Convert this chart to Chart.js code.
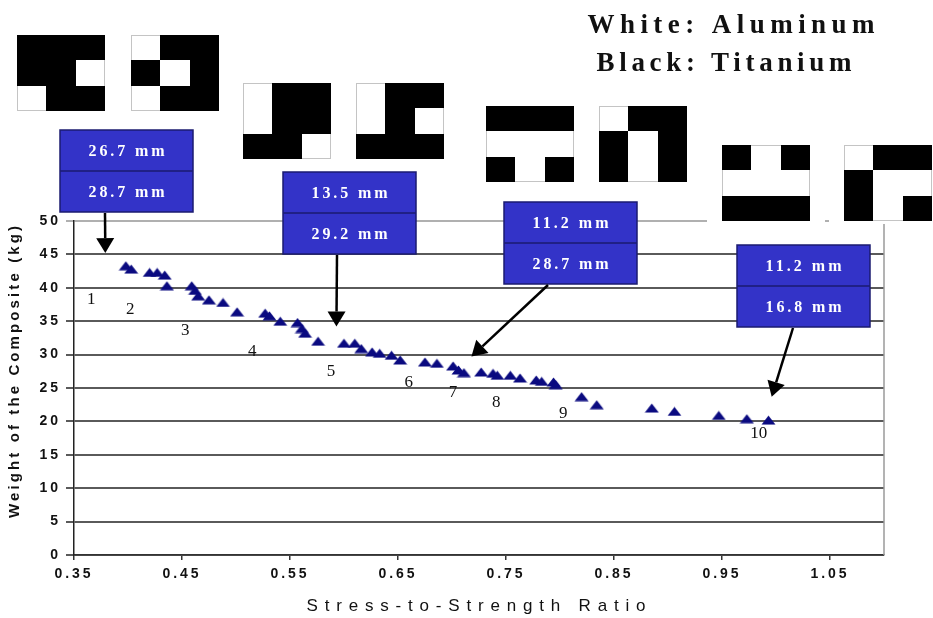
<!DOCTYPE html>
<html lang="en">
<head>
<meta charset="utf-8">
<title>Weight of the composite vs stress-to-strength ratio</title>
<script src="https://cdn.jsdelivr.net/npm/chart.js@4.4.1/dist/chart.umd.min.js"></script>
<style>
  body { margin: 0; background: #fff; }
  .wrap { position: relative; width: 933px; height: 618px; }
</style>
</head>
<body>
<div class="wrap"><canvas id="weightChart"></canvas></div>
<script>
  // designs (stress-to-strength ratio, weight in kg)
  const ratio = [0.398, 0.403, 0.420, 0.427, 0.434, 0.436, 0.459, 0.462, 0.465, 0.475,
                 0.488, 0.501, 0.527, 0.531, 0.541, 0.557, 0.561, 0.564, 0.576, 0.600,
                 0.610, 0.616, 0.626, 0.633, 0.644, 0.652, 0.675, 0.686, 0.701, 0.706,
                 0.711, 0.727, 0.738, 0.742, 0.754, 0.763, 0.778, 0.783, 0.794, 0.796,
                 0.820, 0.834, 0.885, 0.906, 0.947, 0.973, 0.993];
  const weight = [43.3, 42.8, 42.3, 42.3, 41.9, 40.3, 40.3, 39.6, 38.8, 38.2,
                  37.8, 36.4, 36.2, 35.8, 35.0, 34.8, 33.9, 33.2, 32.0, 31.7,
                  31.7, 30.9, 30.4, 30.2, 29.9, 29.2, 28.9, 28.7, 28.3, 27.7,
                  27.3, 27.4, 27.2, 26.9, 26.9, 26.5, 26.2, 26.0, 25.9, 25.5,
                  23.7, 22.5, 22.0, 21.5, 20.9, 20.4, 20.2];

  const xTicks = [0.35, 0.45, 0.55, 0.65, 0.75, 0.85, 0.95, 1.05];

  // group numbers 1..10 under the curve
  const groupNames = ['1', '2', '3', '4', '5', '6', '7', '8', '9', '10'];
  const groupX = [0.366, 0.402, 0.453, 0.515, 0.588, 0.660, 0.701, 0.741, 0.803, 0.984];
  const groupY = [38.2, 36.7, 33.6, 30.4, 27.4, 25.8, 24.3, 22.8, 21.2, 18.2];

  // callouts: two thicknesses each, arrow pointing at a design
  const topSize = ['26.7 mm', '13.5 mm', '11.2 mm', '11.2 mm'];
  const bottomSize = ['28.7 mm', '29.2 mm', '28.7 mm', '16.8 mm'];
  const arrowX = [0.379, 0.593, 0.718, 0.996];
  const arrowY = [45.2, 34.2, 29.7, 23.7];

  // 3x3 material layouts, 1 = titanium (black), 0 = aluminum (white)
  const layouts = [
    [1,1,1, 1,1,0, 0,1,1],
    [0,1,1, 1,0,1, 0,1,1],
    [0,1,1, 0,1,1, 1,1,0],
    [0,1,1, 0,1,0, 1,1,1],
    [1,1,1, 0,0,0, 1,0,1],
    [0,1,1, 1,0,1, 1,0,1],
    [1,0,1, 0,0,0, 1,1,1],
    [0,1,1, 1,0,0, 1,0,1]
  ];

  // placement of the decorations (pixels)
  const iconPos = [[17, 35], [131, 35], [243, 83], [356, 83], [486, 106], [599, 106], [722, 145], [844, 145]];
  const boxPos = [[60, 130], [283, 172], [504, 202], [737, 245]];
  const arrowStartX = [105, 337, 548, 793];

  // flat triangle marker
  const tri = document.createElement('canvas');
  tri.width = 15;
  tri.height = 10;
  const tctx = tri.getContext('2d');
  tctx.fillStyle = '#0a0a80';
  tctx.beginPath();
  tctx.moveTo(7.5, 0.5);
  tctx.lineTo(14.5, 9.5);
  tctx.lineTo(0.5, 9.5);
  tctx.closePath();
  tctx.fill();

  function fitText(ctx, text, cx, cy, width) {
    ctx.letterSpacing = '0px';
    const w0 = ctx.measureText(text).width;
    const gap = text.length > 1 ? (width - w0) / (text.length - 1) : 0;
    ctx.letterSpacing = gap + 'px';
    ctx.textAlign = 'left';
    ctx.fillText(text, cx - width / 2, cy);
    ctx.letterSpacing = '0px';
  }

  function arrow(ctx, x1, y1, x2, y2) {
    const ang = Math.atan2(y2 - y1, x2 - x1);
    const len = 15, half = 9;
    const bx = x2 - Math.cos(ang) * len, by = y2 - Math.sin(ang) * len;
    ctx.strokeStyle = '#000';
    ctx.lineWidth = 2.5;
    ctx.beginPath();
    ctx.moveTo(x1, y1);
    ctx.lineTo(bx, by);
    ctx.stroke();
    ctx.fillStyle = '#000';
    ctx.beginPath();
    ctx.moveTo(x2, y2);
    ctx.lineTo(bx + Math.sin(ang) * half, by - Math.cos(ang) * half);
    ctx.lineTo(bx - Math.sin(ang) * half, by + Math.cos(ang) * half);
    ctx.closePath();
    ctx.fill();
  }

  const overlay = {
    id: 'overlay',
    beforeDraw(chart) {
      chart.ctx.letterSpacing = '3px';
    },
    afterDraw(chart) {
      const ctx = chart.ctx;
      const xs = chart.scales.x, ys = chart.scales.y;
      const area = chart.chartArea;
      ctx.letterSpacing = '0px';
      ctx.save();

      // right border of the plot
      ctx.strokeStyle = '#9a9a9a';
      ctx.lineWidth = 1.5;
      ctx.beginPath();
      ctx.moveTo(area.right, area.top);
      ctx.lineTo(area.right, area.bottom);
      ctx.stroke();

      // group numbers
      ctx.fillStyle = '#111';
      ctx.font = '17px "Liberation Serif", serif';
      ctx.textAlign = 'center';
      ctx.textBaseline = 'middle';
      groupNames.forEach((n, i) => {
        ctx.fillText(n, xs.getPixelForValue(groupX[i]), ys.getPixelForValue(groupY[i]));
      });

      // material layout icons
      const iw = 88, ih = 76;
      layouts.forEach((cells, k) => {
        const [x0, y0] = iconPos[k];
        ctx.fillStyle = '#fff';
        ctx.fillRect(x0 - 15, y0 - 4, iw + 30, ih + 7);
        ctx.strokeStyle = '#c4c4c4';
        ctx.lineWidth = 1;
        ctx.strokeRect(x0 + 0.5, y0 + 0.5, iw - 1, ih - 1);
        ctx.fillStyle = '#000';
        cells.forEach((c, j) => {
          if (!c) return;
          const col = j % 3, row = Math.floor(j / 3);
          const cx0 = Math.round(x0 + col * iw / 3), cx1 = Math.round(x0 + (col + 1) * iw / 3);
          const cy0 = Math.round(y0 + row * ih / 3), cy1 = Math.round(y0 + (row + 1) * ih / 3);
          ctx.fillRect(cx0, cy0, cx1 - cx0, cy1 - cy0);
        });
      });

      // callout boxes and arrows
      const bw = 133, bh = 82;
      boxPos.forEach(([x0, y0], k) => {
        ctx.fillStyle = '#3333c8';
        ctx.fillRect(x0, y0, bw, bh);
        ctx.strokeStyle = '#1b1b70';
        ctx.lineWidth = 1.5;
        ctx.strokeRect(x0, y0, bw, bh);
        ctx.beginPath();
        ctx.moveTo(x0, y0 + bh / 2);
        ctx.lineTo(x0 + bw, y0 + bh / 2);
        ctx.stroke();
        ctx.fillStyle = '#fff';
        ctx.font = 'bold 16px "Liberation Serif", serif';
        ctx.textBaseline = 'middle';
        fitText(ctx, topSize[k], x0 + bw / 2, y0 + bh / 4 + 1, 76);
        fitText(ctx, bottomSize[k], x0 + bw / 2, y0 + 3 * bh / 4 + 1, 76);
        arrow(ctx, arrowStartX[k], y0 + bh + 1,
          xs.getPixelForValue(arrowX[k]), ys.getPixelForValue(arrowY[k]));
      });

      // legend text
      ctx.fillStyle = '#111';
      ctx.font = 'bold 27px "Liberation Serif", serif';
      ctx.textBaseline = 'alphabetic';
      fitText(ctx, 'White: Aluminum', 731, 33, 287);
      fitText(ctx, 'Black: Titanium', 724, 71, 255);

      // axis titles
      ctx.font = '17px "Liberation Sans", sans-serif';
      ctx.textBaseline = 'middle';
      fitText(ctx, 'Stress-to-Strength Ratio', 476, 606, 339);
      ctx.translate(15, 372);
      ctx.rotate(-Math.PI / 2);
      ctx.font = 'bold 15px "Liberation Sans", sans-serif';
      fitText(ctx, 'Weight of the Composite (kg)', 0, 0, 292);

      ctx.restore();
    }
  };

  new Chart(document.getElementById('weightChart'), {
    type: 'scatter',
    data: {
      datasets: [{
        data: ratio.map((r, i) => ({ x: r, y: weight[i] })),
        pointStyle: tri,
        pointRadius: 6
      }]
    },
    options: {
      responsive: true,
      maintainAspectRatio: false,
      animation: false,
      devicePixelRatio: 1,
      layout: { padding: { top: 221, right: 49, left: 0, bottom: 0 } },
      plugins: {
        legend: { display: false },
        tooltip: { enabled: false }
      },
      scales: {
        x: {
          type: 'linear',
          min: 0.35,
          max: 1.1,
          afterBuildTicks: (scale) => { scale.ticks = xTicks.map(v => ({ value: v })); },
          afterFit: (scale) => { scale.height = 63; },
          grid: { drawOnChartArea: false, tickLength: 5, color: '#333', lineWidth: 1.5 },
          border: { color: '#333', width: 1.5 },
          ticks: {
            padding: 6,
            color: '#111',
            font: { family: 'Liberation Sans', weight: 'bold', size: 14 },
            callback: (v) => v.toFixed(2)
          }
        },
        y: {
          min: 0,
          max: 50,
          afterFit: (scale) => { scale.width = 74; },
          grid: {
            color: (c) => c.tick && c.tick.value === 50 ? '#b0b0b0' : '#5a5a5a',
            lineWidth: 2,
            tickLength: 8
          },
          border: { color: '#222', width: 1.5 },
          ticks: {
            stepSize: 5,
            padding: 5,
            color: '#111',
            font: { family: 'Liberation Sans', weight: 'bold', size: 14 }
          }
        }
      }
    },
    plugins: [overlay]
  });
</script>
</body>
</html>
